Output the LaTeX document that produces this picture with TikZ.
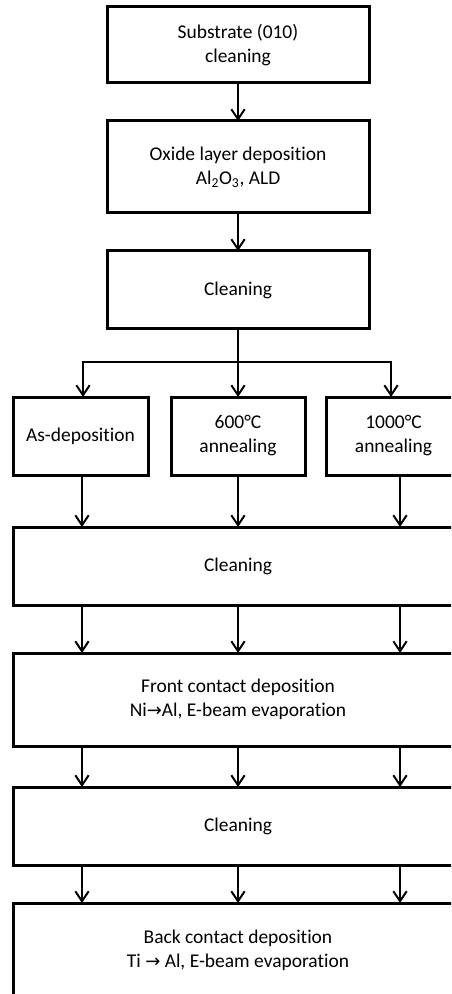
\documentclass[tikz,border=0pt]{standalone}
\usepackage{fontspec}
\setmainfont[Ligatures=NoCommon]{Carlito}
\newfontfamily\arrowfont{DejaVu Sans}
\usetikzlibrary{arrows.meta,calc}
\newcommand{\rarr}{{\arrowfont\fontsize{13.5}{18}\selectfont →}}
\begin{document}
\begin{tikzpicture}[x=0.75pt,y=-0.75pt,
  stepbox/.style={draw,line width=2.25pt,align=center,inner sep=0pt,outer sep=0pt,
    anchor=north west,font=\fontsize{14.6}{18}\selectfont},
  conn/.style={line width=1.5pt,-{Straight Barb[length=7.5pt,width=10pt,line width=1.5pt]}},
  plain/.style={line width=1.5pt}]
\clip (0,0) rectangle (451,994);
\fill[white] (0,0) rectangle (451,994);
\node[stepbox,minimum width=196.5pt,minimum height=57pt] (b1) at (107,7) {Substrate (010)\\cleaning};
\node[stepbox,minimum width=196.5pt,minimum height=69pt] (b2) at (107,121) {Oxide layer deposition\\Al\textsubscript{2}O\textsubscript{3}, ALD};
\node[stepbox,minimum width=196.5pt,minimum height=58.5pt] (b3) at (107,251) {Cleaning};
\node[stepbox,minimum width=101.25pt,minimum height=58.5pt] (sa) at (13,397) {As-deposition};
\node[stepbox,minimum width=100.5pt,minimum height=58.5pt] (sb) at (171,397) {600°C\\annealing};
\node[stepbox,minimum width=101.25pt,minimum height=58.5pt] (sc) at (326,397) {1000°C\\annealing};
\node[stepbox,minimum width=337.5pt,minimum height=58.5pt] (w1) at (13,527) {Cleaning};
\node[stepbox,minimum width=337.5pt,minimum height=69.75pt] (w2) at (13,653) {Front contact deposition\\Ni\rarr Al, E-beam evaporation};
\node[stepbox,minimum width=337.5pt,minimum height=58.5pt] (w3) at (13,787) {Cleaning};
\node[stepbox,minimum width=337.5pt,minimum height=70.5pt] (w4) at (13,903) {Back contact deposition\\Ti \rarr{} Al, E-beam evaporation};
\coordinate (xl) at (82,0);
\coordinate (xr) at (400,0);
\coordinate (split) at (238,362);
\coordinate (bl) at (83,362);
\coordinate (br) at (391,362);
\draw[conn] (b1.south) -- (b2.north);
\draw[conn] (b2.south) -- (b3.north);
\draw[plain] (b3.south) -- (split);
\draw[plain,line cap=rect] (bl) -- (br);
\draw[conn] (bl) -- (bl |- sa.north);
\draw[conn] (split) -- (sb.north);
\draw[conn] (br) -- (br |- sc.north);
\draw[conn] (sa.south -| xl) -- (w1.north -| xl);
\draw[conn] (sb.south) -- (sb.south |- w1.north);
\draw[conn] (sc.south -| xr) -- (w1.north -| xr);
\foreach \u/\v in {w1/w2,w2/w3,w3/w4}{
  \draw[conn] (\u.south -| xl) -- (\v.north -| xl);
  \draw[conn] (\u.south -| sb.south) -- (\v.north -| sb.south);
  \draw[conn] (\u.south -| xr) -- (\v.north -| xr);
}
\end{tikzpicture}
\end{document}
